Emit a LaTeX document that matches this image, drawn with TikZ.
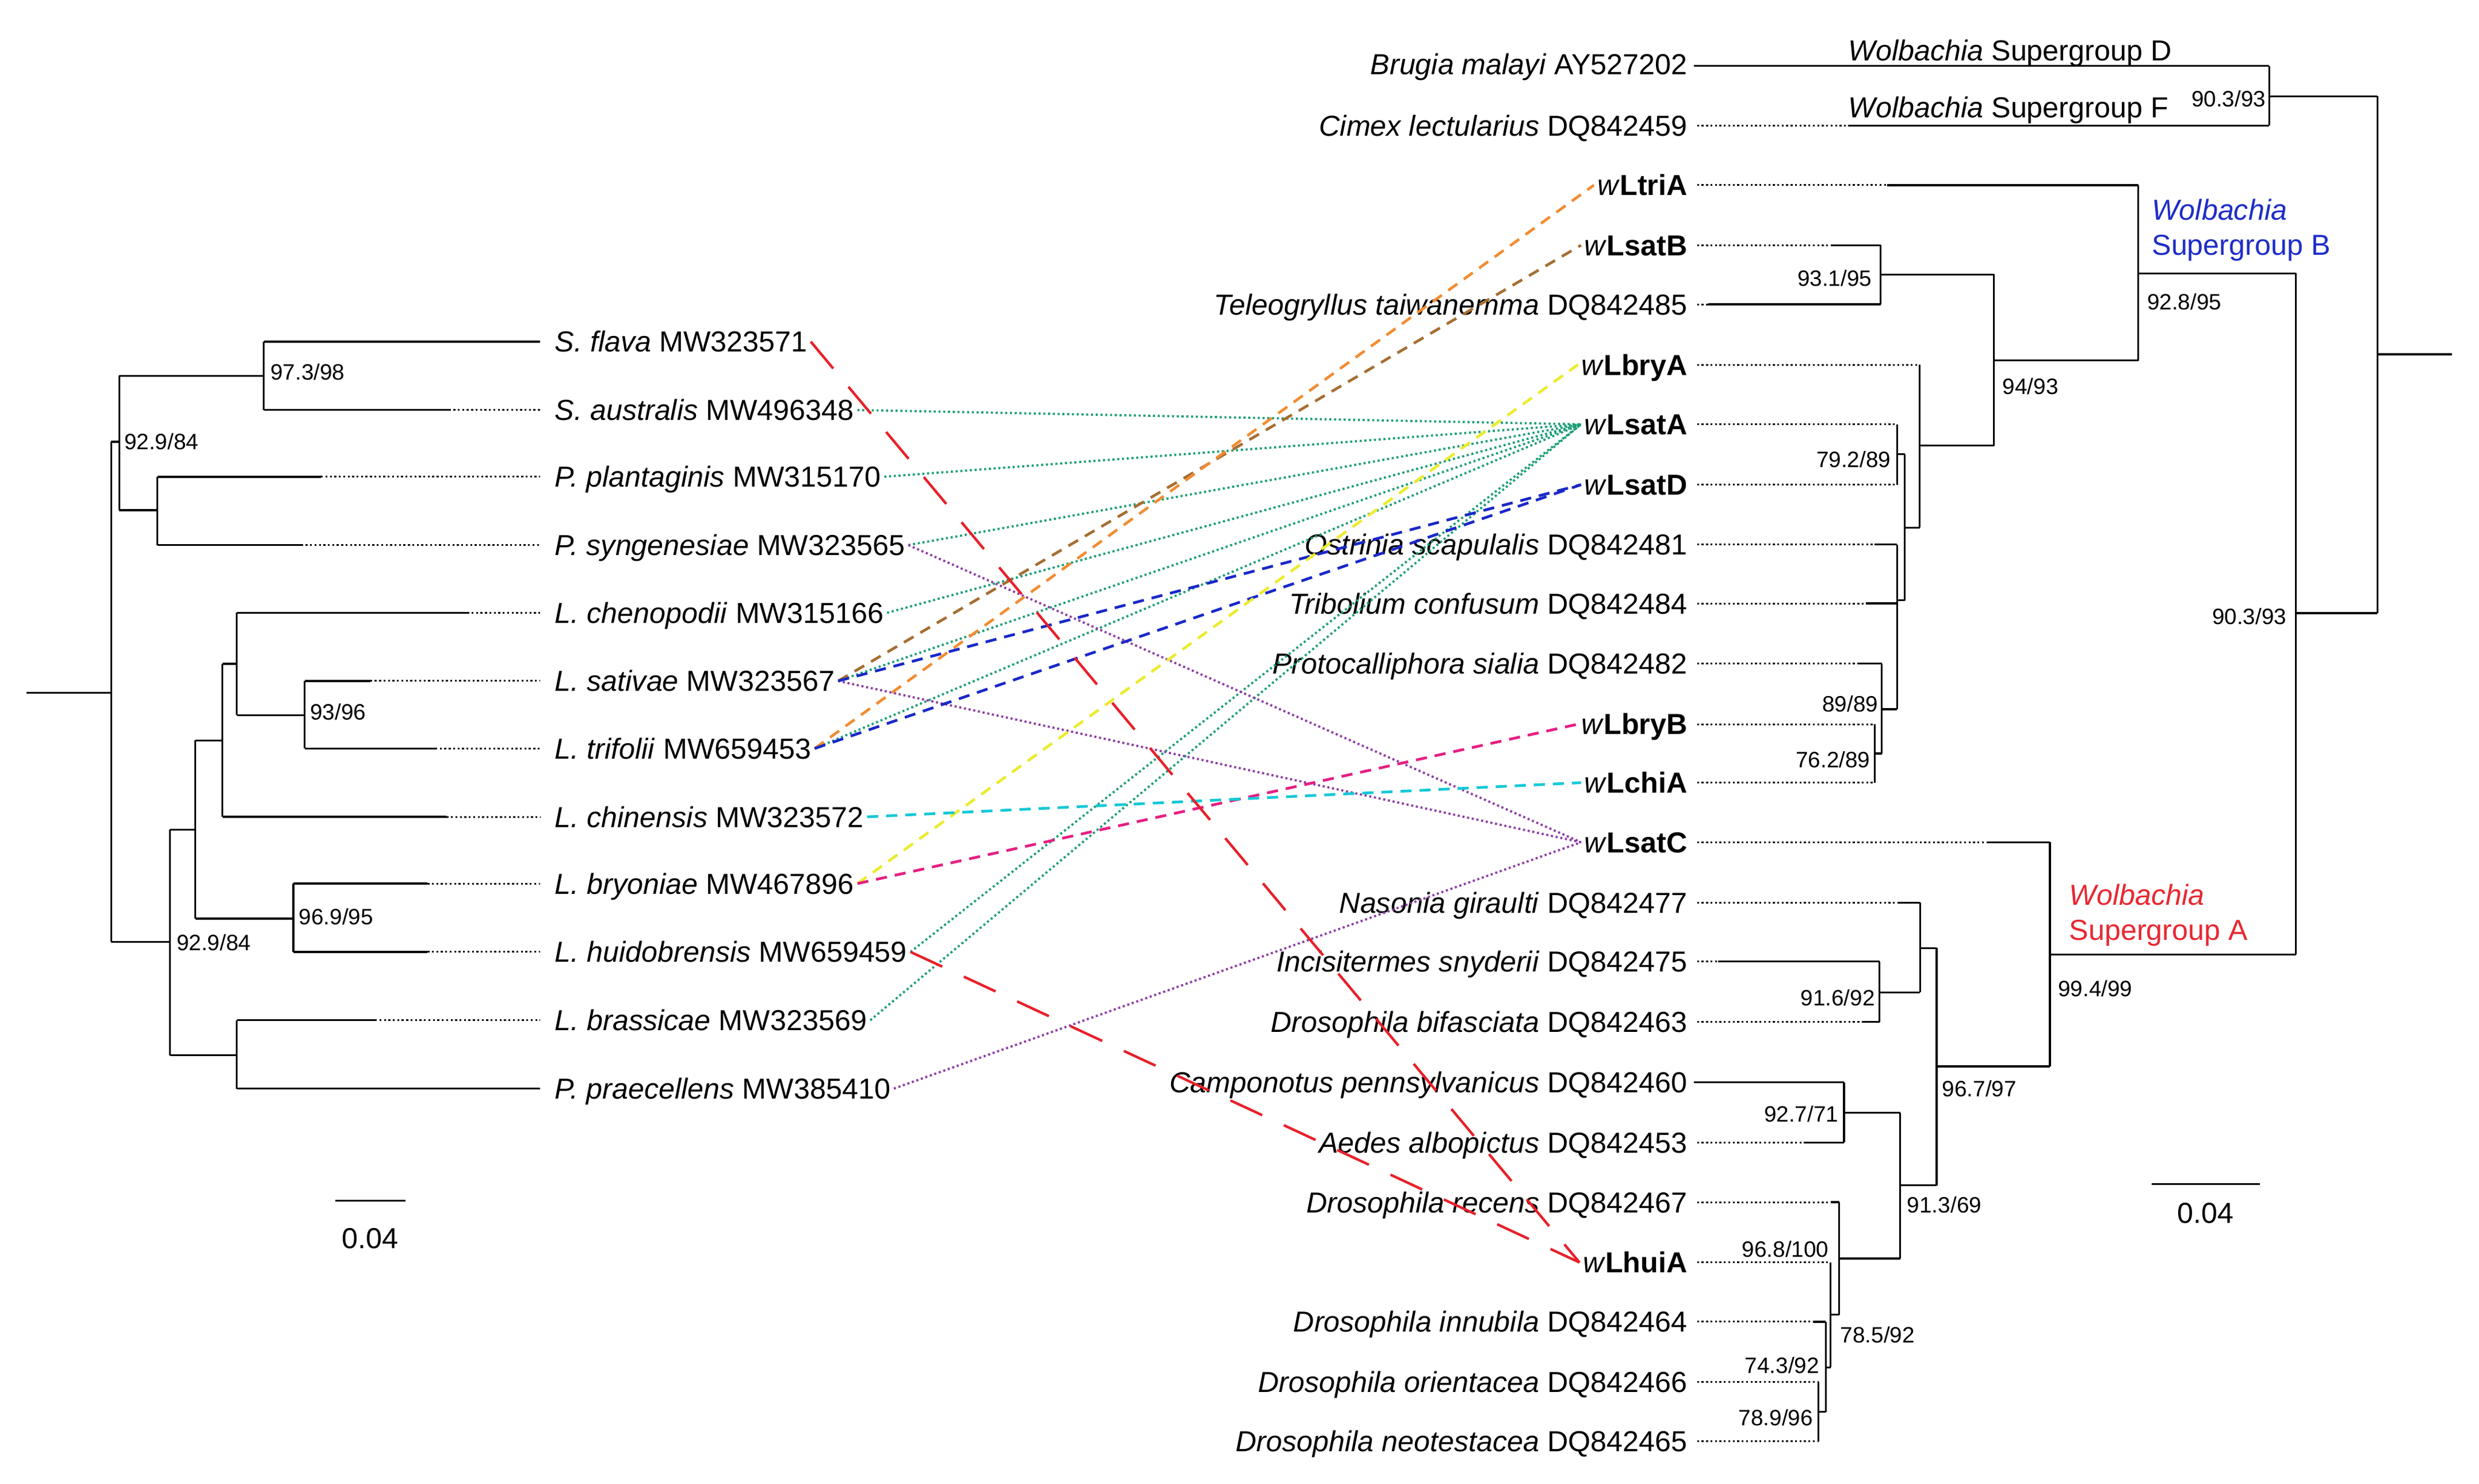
\documentclass[tikz,border=0pt]{standalone}
\usepackage{fontspec}
\setmainfont{Liberation Sans}
\definecolor{lkteal}{RGB}{27,158,119}
\definecolor{lkpurple}{RGB}{140,60,165}
\definecolor{lkbrown}{RGB}{166,110,50}
\definecolor{lkorange}{RGB}{242,140,50}
\definecolor{lkblue}{RGB}{25,40,200}
\definecolor{lkyellow}{RGB}{235,235,45}
\definecolor{lkcyan}{RGB}{20,200,215}
\definecolor{lkmagenta}{RGB}{230,30,130}
\definecolor{lkred}{RGB}{232,32,42}
\definecolor{sgblue}{RGB}{30,45,200}
\definecolor{sgred}{RGB}{232,40,50}
\tikzset{branch/.style={line width=1.2pt},
         ext/.style={line width=1.1pt,dash pattern=on 1.2pt off 1.6pt},
         taxon/.style={inner xsep=2pt,inner ysep=0pt,text height=13pt,text depth=0pt,font=\fontsize{18.2}{20}\selectfont},
         support/.style={inner sep=0pt,font=\fontsize{14}{16}\selectfont},
         linkdot/.style={line width=1.4pt,dash pattern=on 1.3pt off 1.7pt},
         linkdash/.style={line width=1.7pt,dash pattern=on 7pt off 5pt},
         linklong/.style={line width=1.6pt,dash pattern=on 22pt off 15pt}}
\begin{document}
\begin{tikzpicture}[x=1pt,y=-1pt]
        \useasboundingbox (0,0) rectangle (1560,933.5);
        % left tree
        \draw[branch](16.6,436)--(70,436) (70,278)--(70,592.6);
        \draw[branch](70,278)--(75,278) (75,236.5)--(75,321);
        \draw[branch](75,236.5)--(166,236.5) (166,215)--(166,258);
        \draw[branch](75,321)--(99,321) (99,300)--(99,343);
        \draw[branch](70,592.6)--(107,592.6) (107,522)--(107,664);
        \draw[branch](107,522)--(123,522) (123,466)--(123,578);
        \draw[branch](123,466)--(140,466) (140,417.7)--(140,514);
        \draw[branch](140,417.7)--(149,417.7) (149,385.6)--(149,450);
        \draw[branch](149,450)--(191.7,450) (191.7,428.5)--(191.7,471);
        \draw[branch](123,578)--(184.6,578) (184.6,556)--(184.6,599);
        \draw[branch](107,664)--(149,664) (149,642)--(149,685);
        \draw[branch](166,215)--(340,215);
        \draw[branch](166,258)--(282.5,258); \draw[ext](282.5,258)--(340,258);
        \draw[branch](99,300)--(202,300); \draw[ext](202,300)--(340,300);
        \draw[branch](99,343)--(189.5,343); \draw[ext](189.5,343)--(340,343);
        \draw[branch](149,385.6)--(294,385.6); \draw[ext](294,385.6)--(340,385.6);
        \draw[branch](191.7,428.5)--(233,428.5); \draw[ext](233,428.5)--(340,428.5);
        \draw[branch](191.7,471)--(274,471); \draw[ext](274,471)--(340,471);
        \draw[branch](140,514)--(281,514); \draw[ext](281,514)--(340,514);
        \draw[branch](184.6,556)--(269,556); \draw[ext](269,556)--(340,556);
        \draw[branch](184.6,599)--(269,599); \draw[ext](269,599)--(340,599);
        \draw[branch](149,642)--(236,642); \draw[ext](236,642)--(340,642);
        \draw[branch](149,685)--(340,685);

        \node[taxon,anchor=west](sfla)at(347,215){\textit{S. flava} MW323571};
        \node[taxon,anchor=west](saus)at(347,258){\textit{S. australis} MW496348};
        \node[taxon,anchor=west](ppla)at(347,300){\textit{P. plantaginis} MW315170};
        \node[taxon,anchor=west](psyn)at(347,343){\textit{P. syngenesiae} MW323565};
        \node[taxon,anchor=west](lche)at(347,385.6){\textit{L. chenopodii} MW315166};
        \node[taxon,anchor=west](lsat)at(347,428.5){\textit{L. sativae} MW323567};
        \node[taxon,anchor=west](ltri)at(347,471){\textit{L. trifolii} MW659453};
        \node[taxon,anchor=west](lchi)at(347,514){\textit{L. chinensis} MW323572};
        \node[taxon,anchor=west](lbry)at(347,556){\textit{L. bryoniae} MW467896};
        \node[taxon,anchor=west](lhui)at(347,599){\textit{L. huidobrensis} MW659459};
        \node[taxon,anchor=west](lbra)at(347,642){\textit{L. brassicae} MW323569};
        \node[taxon,anchor=west](ppra)at(347,685){\textit{P. praecellens} MW385410};

        \node[support,anchor=west](s1)at(170,234){97.3/98};
        \node[support,anchor=west](s2)at(78,278){92.9/84};
        \node[support,anchor=west](s3)at(195,448){93/96};
        \node[support,anchor=west](s4)at(188,577){96.9/95};
        \node[support,anchor=west](s5)at(111,593){92.9/84};

        \draw[branch](211,755.5)--(255,755.5);
        \node[taxon](sbl)at(233,779){0.04};

        % right tree
        \draw[branch](1496,223)--(1543,223) (1496,60.6)--(1496,385.8);
        \draw[branch](1428,60.6)--(1496,60.6) (1428,41.5)--(1428,79);
        \draw[branch](1444.7,385.8)--(1496,385.8) (1444.7,172)--(1444.7,600.6);
        \draw[branch](1345.6,172)--(1444.7,172) (1345.6,116.5)--(1345.6,226.8);
        \draw[branch](1254.8,226.8)--(1345.6,226.8) (1254.8,172.8)--(1254.8,280.4);
        \draw[branch](1183.4,172.8)--(1254.8,172.8) (1183.4,154.3)--(1183.4,191.5);
        \draw[branch](1208,280.4)--(1254.8,280.4) (1208,229.5)--(1208,332);
        \draw[branch](1198.7,332)--(1208,332) (1198.7,285.8)--(1198.7,377.7);
        \draw[branch](1193.8,285.8)--(1198.7,285.8) (1193.8,267)--(1193.8,305);
        \draw[branch](1193.8,377.7)--(1198.7,377.7) (1193.8,342.7)--(1193.8,446.3);
        \draw[branch](1184.2,446.3)--(1193.8,446.3) (1184.2,417.6)--(1184.2,474.2);
        \draw[branch](1179.7,474.2)--(1184.2,474.2) (1179.7,455.7)--(1179.7,492.5);
        \draw[branch](1290,600.6)--(1444.7,600.6) (1290,530)--(1290,671.1);
        \draw[branch](1218.7,671.1)--(1290,671.1) (1218.7,596.6)--(1218.7,745.8);
        \draw[branch](1208.3,596.6)--(1218.7,596.6) (1208.3,568)--(1208.3,624.5);
        \draw[branch](1182.7,624.5)--(1208.3,624.5) (1182.7,605)--(1182.7,643);
        \draw[branch](1195.7,745.8)--(1218.7,745.8) (1195.7,700.3)--(1195.7,791.9);
        \draw[branch](1160.4,700.3)--(1195.7,700.3) (1160.4,681)--(1160.4,719);
        \draw[branch](1157.4,791.9)--(1195.7,791.9) (1157.4,756.5)--(1157.4,827.3);
        \draw[branch](1151.9,827.3)--(1157.4,827.3) (1151.9,794.4)--(1151.9,860.4);
        \draw[branch](1148.9,860.4)--(1151.9,860.4) (1148.9,831.7)--(1148.9,888.5);
        \draw[branch](1144.4,888.5)--(1148.9,888.5) (1144.4,869.6)--(1144.4,907);
        \draw[branch](1066,41.5)--(1428,41.5);
        \draw[ext](1068,79)--(1163,79); \draw[branch](1163,79)--(1428,79);
        \draw[ext](1068,116.5)--(1187.5,116.5); \draw[branch](1187.5,116.5)--(1345.6,116.5);
        \draw[ext](1068,154.3)--(1153,154.3); \draw[branch](1153,154.3)--(1183.4,154.3);
        \draw[ext](1068,191.5)--(1075,191.5); \draw[branch](1075,191.5)--(1183.4,191.5);
        \draw[ext](1068,229.5)--(1208,229.5);
        \draw[ext](1068,267)--(1193.8,267);
        \draw[ext](1068,305)--(1193.8,305);
        \draw[ext](1068,342.7)--(1179.7,342.7); \draw[branch](1179.7,342.7)--(1193.8,342.7);
        \draw[ext](1068,379.7)--(1174,379.7); \draw[branch](1174,379.7)--(1193.8,379.7);
        \draw[ext](1068,417.6)--(1168.6,417.6); \draw[branch](1168.6,417.6)--(1184.2,417.6);
        \draw[ext](1068,455.7)--(1179.7,455.7);
        \draw[ext](1068,492.5)--(1179.7,492.5);
        \draw[ext](1068,530)--(1250.3,530); \draw[branch](1250.3,530)--(1290,530);
        \draw[ext](1068,568)--(1194.6,568); \draw[branch](1194.6,568)--(1208.3,568);
        \draw[ext](1068,605)--(1081.2,605); \draw[branch](1081.2,605)--(1182.7,605);
        \draw[ext](1068,643)--(1172.3,643); \draw[branch](1172.3,643)--(1182.7,643);
        \draw[branch](1066,681)--(1160.4,681);
        \draw[ext](1068,719)--(1135,719); \draw[branch](1135,719)--(1160.4,719);
        \draw[ext](1068,756.5)--(1152,756.5); \draw[branch](1152,756.5)--(1157.4,756.5);
        \draw[ext](1068,794.4)--(1151.9,794.4);
        \draw[ext](1068,831.7)--(1140.7,831.7); \draw[branch](1140.7,831.7)--(1148.9,831.7);
        \draw[ext](1068,869.6)--(1144.4,869.6);
        \draw[ext](1068,907)--(1144.4,907);

        \node[taxon,anchor=east](bmal)at(1064,40.5){\textit{Brugia malayi} AY527202};
        \node[taxon,anchor=east](clec)at(1064,79){\textit{Cimex lectularius} DQ842459};
        \node[taxon,anchor=east](wltria)at(1064,116.5){\textit{w}\textbf{LtriA}};
        \node[taxon,anchor=east](wlsatb)at(1064,154.3){\textit{w}\textbf{LsatB}};
        \node[taxon,anchor=east](ttai)at(1064,191.5){\textit{Teleogryllus taiwanemma} DQ842485};
        \node[taxon,anchor=east](wlbrya)at(1064,229.5){\textit{w}\textbf{LbryA}};
        \node[taxon,anchor=east](wlsata)at(1064,267){\textit{w}\textbf{LsatA}};
        \node[taxon,anchor=east](wlsatd)at(1064,305){\textit{w}\textbf{LsatD}};
        \node[taxon,anchor=east](osca)at(1064,342.7){\textit{Ostrinia scapulalis} DQ842481};
        \node[taxon,anchor=east](tcon)at(1064,379.7){\textit{Tribolium confusum} DQ842484};
        \node[taxon,anchor=east](psia)at(1064,417.6){\textit{Protocalliphora sialia} DQ842482};
        \node[taxon,anchor=east](wlbryb)at(1064,455.7){\textit{w}\textbf{LbryB}};
        \node[taxon,anchor=east](wlchia)at(1064,492.5){\textit{w}\textbf{LchiA}};
        \node[taxon,anchor=east](wlsatc)at(1064,530){\textit{w}\textbf{LsatC}};
        \node[taxon,anchor=east](ngir)at(1064,568){\textit{Nasonia giraulti} DQ842477};
        \node[taxon,anchor=east](isny)at(1064,605){\textit{Incisitermes snyderii} DQ842475};
        \node[taxon,anchor=east](dbif)at(1064,643){\textit{Drosophila bifasciata} DQ842463};
        \node[taxon,anchor=east](cpen)at(1064,681){\textit{Camponotus pennsylvanicus} DQ842460};
        \node[taxon,anchor=east](aalb)at(1064,719){\textit{Aedes albopictus} DQ842453};
        \node[taxon,anchor=east](drec)at(1064,756.5){\textit{Drosophila recens} DQ842467};
        \node[taxon,anchor=east](wlhuia)at(1064,794.4){\textit{w}\textbf{LhuiA}};
        \node[taxon,anchor=east](dinn)at(1064,831.7){\textit{Drosophila innubila} DQ842464};
        \node[taxon,anchor=east](dori)at(1064,869.6){\textit{Drosophila orientacea} DQ842466};
        \node[taxon,anchor=east](dneo)at(1064,907){\textit{Drosophila neotestacea} DQ842465};

        \node[taxon,anchor=west](sgd)at(1161,31.6){\textit{Wolbachia} Supergroup D};
        \node[taxon,anchor=west](sgf)at(1161,67.5){\textit{Wolbachia} Supergroup F};
        \node[taxon,anchor=west,text=sgblue](sgb1)at(1352,132){\textit{Wolbachia}};
        \node[taxon,anchor=west,text=sgblue](sgb2)at(1352,154){Supergroup B};
        \node[taxon,anchor=west,text=sgred](sga1)at(1300,563){\textit{Wolbachia}};
        \node[taxon,anchor=west,text=sgred](sga2)at(1300,585){Supergroup A};

        \node[support,anchor=east](r1)at(1426,62){90.3/93};
        \node[support,anchor=east](r2)at(1178,175){93.1/95};
        \node[support,anchor=west](r3)at(1351,190){92.8/95};
        \node[support,anchor=west](r4)at(1260,243){94/93};
        \node[support,anchor=east](r5)at(1190,289){79.2/89};
        \node[support,anchor=east](r6)at(1439,388){90.3/93};
        \node[support,anchor=east](r7)at(1182,443){89/89};
        \node[support,anchor=east](r8)at(1177,478){76.2/89};
        \node[support,anchor=west](r9)at(1295,622){99.4/99};
        \node[support,anchor=east](r10)at(1180,628){91.6/92};
        \node[support,anchor=west](r11)at(1222,685){96.7/97};
        \node[support,anchor=east](r12)at(1157,701){92.7/71};
        \node[support,anchor=west](r13)at(1200,758){91.3/69};
        \node[support,anchor=east](r14)at(1151,786){96.8/100};
        \node[support,anchor=west](r15)at(1158,840){78.5/92};
        \node[support,anchor=east](r16)at(1145,859){74.3/92};
        \node[support,anchor=east](r17)at(1141,892){78.9/96};

        \draw[branch](1354,745)--(1422,745);
        \node[taxon](sbr)at(1388,763){0.04};

        % host-symbiont links
        \draw[linkdot,lkteal](saus.east)--(wlsata.west);
        \draw[linkdot,lkteal](ppla.east)--(wlsata.west);
        \draw[linkdot,lkteal](psyn.east)--(wlsata.west);
        \draw[linkdot,lkteal](lche.east)--(wlsata.west);
        \draw[linkdot,lkteal](lsat.east)--(wlsata.west);
        \draw[linkdot,lkteal](ltri.east)--(wlsata.west);
        \draw[linkdot,lkteal](lhui.east)--(wlsata.west);
        \draw[linkdot,lkteal](lbra.east)--(wlsata.west);
        \draw[linkdot,lkpurple](psyn.east)--(wlsatc.west);
        \draw[linkdot,lkpurple](lsat.east)--(wlsatc.west);
        \draw[linkdot,lkpurple](ppra.east)--(wlsatc.west);
        \draw[linkdash,lkbrown](lsat.east)--(wlsatb.west);
        \draw[linkdash,lkorange](ltri.east)--(wltria.west);
        \draw[linkdash,lkblue](lsat.east)--(wlsatd.west);
        \draw[linkdash,lkblue](ltri.east)--(wlsatd.west);
        \draw[linkdash,lkyellow](lbry.east)--(wlbrya.west);
        \draw[linkdash,lkmagenta](lbry.east)--(wlbryb.west);
        \draw[linkdash,lkcyan](lchi.east)--(wlchia.west);
        \draw[linklong,lkred](sfla.east)--(wlhuia.west);
        \draw[linklong,lkred](lhui.east)--(wlhuia.west);
    \end{tikzpicture}
\end{document}
